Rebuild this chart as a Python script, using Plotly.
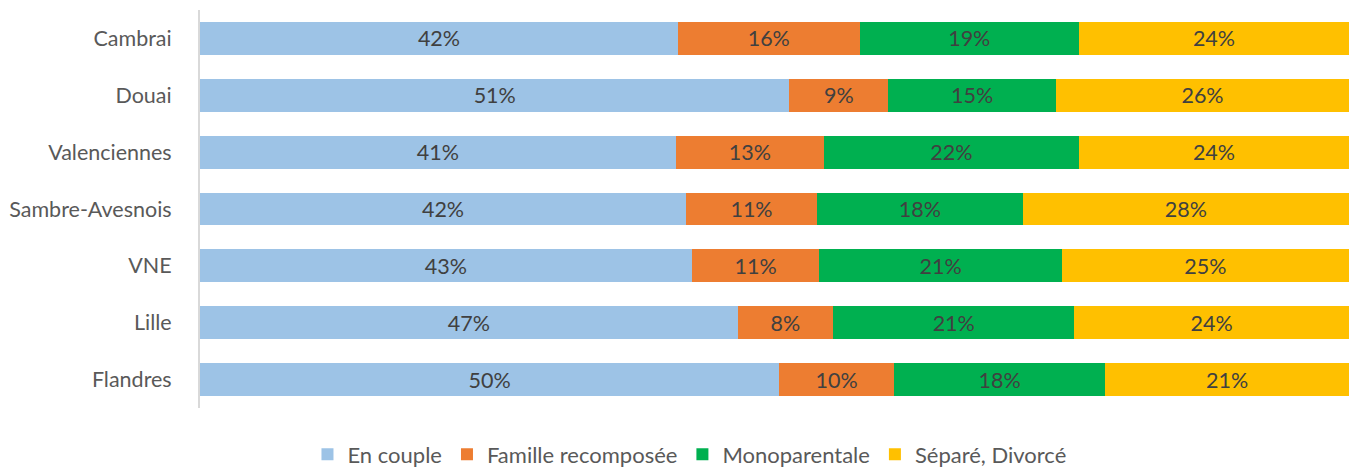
import plotly.graph_objects as go

categories = ["Cambrai", "Douai", "Valenciennes", "Sambre-Avesnois", "VNE", "Lille", "Flandres"]
en_couple = [41.6, 51.3, 41.4, 42.3, 42.8, 46.8, 50.4]
famille_recomposee = [15.8, 8.6, 12.9, 11.4, 11.1, 8.3, 10.0]
monoparentale = [19.1, 14.6, 22.2, 17.9, 21.1, 21.0, 18.4]
separe_divorce = [23.5, 25.5, 23.5, 28.4, 25.0, 23.9, 21.2]

series = [
    ("En couple", en_couple, "#9DC3E6"),
    ("Famille recomposée", famille_recomposee, "#ED7D31"),
    ("Monoparentale", monoparentale, "#00B050"),
    ("Séparé, Divorcé", separe_divorce, "#FFC000"),
]

FONT = "Lato"
fig = go.Figure()
for name, vals, color in series:
    fig.add_trace(go.Bar(
        y=categories, x=vals, name=name, orientation="h",
        marker=dict(color=color, line=dict(width=0)),
        texttemplate="%{x:.0f}%", textposition="inside",
        insidetextanchor="middle", textangle=0,
        textfont=dict(family=FONT, size=21.5, color="#404040"),
        hoverinfo="skip",
    ))

fig.update_layout(
    barmode="stack", bargap=0.42,
    width=1349, height=470,
    margin=dict(l=200, r=0, t=10, b=62, autoexpand=False),
    paper_bgcolor="white", plot_bgcolor="white",
    font=dict(family=FONT, size=21, color="#595959"),
    uniformtext=dict(minsize=21, mode="show"),
    legend=dict(orientation="h", x=0.426, xanchor="center", y=-0.117, yanchor="middle",
                font=dict(family=FONT, size=22, color="#595959"), traceorder="normal",
                itemwidth=30),
    showlegend=True,
)
fig.update_xaxes(range=[0, 100], showgrid=False, zeroline=False, showticklabels=False,
                 showline=False, fixedrange=True)
fig.update_yaxes(autorange="reversed", showline=True, linecolor="#D9D9D9", linewidth=2,
                 ticks="", ticklabelstandoff=22, showgrid=False,
                 tickfont=dict(family=FONT, size=21.5, color="#595959"))

post = (
    "document.body.style.margin='0';"
    "document.body.style.overflow='hidden';"
    "var gd=document.getElementById('{plot_id}');"
    "Plotly.relayout(gd,{width:1349,height:470});"
)
fig.write_html("out.html", post_script=post,
               config={"responsive": False, "displayModeBar": False})
